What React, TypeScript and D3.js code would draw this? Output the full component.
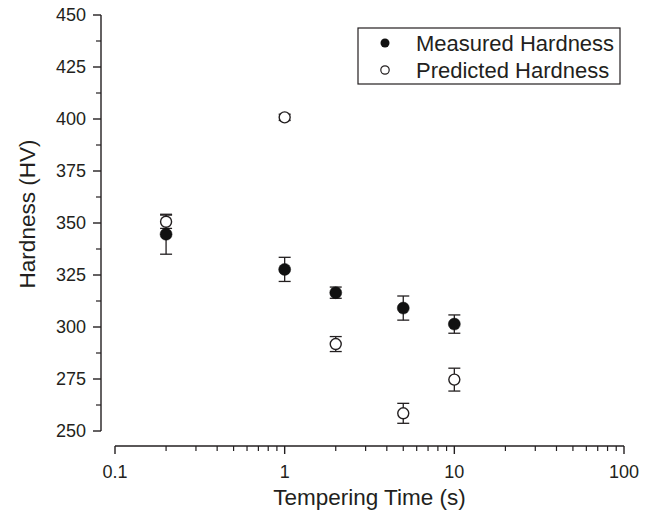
import React from "react";
import * as d3 from "d3";

const times = [0.2, 1, 2, 5, 10];
const measured = [344.6, 327.7, 316.5, 309.1, 301.4];
const measuredErr = [9.6, 5.8, 2.7, 5.8, 4.4];
const predicted = [350.6, 400.8, 291.8, 258.5, 274.7];
const predictedErr = [3.2, 1.5, 3.6, 4.8, 5.5];

const xMajor = [0.1, 1, 10, 100];
const xMajorLabels = ["0.1", "1", "10", "100"];
const yMajor = [250, 275, 300, 325, 350, 375, 400, 425, 450];

const legendNames = ["Measured Hardness", "Predicted Hardness"];

const FONT = "'Liberation Sans', Arial, Helvetica, sans-serif";
const TXT = "#231f20";

export default function App() {
  const W = 646, H = 515;
  const x = d3.scaleLog().domain([0.1, 100]).range([115, 624]);
  const y = d3.scaleLinear().domain([250, 450]).range([431, 15]);
  const axisY = 446;
  const axisX = 101;

  const xMinor: number[] = [];
  [0.1, 1, 10].forEach((d) => {
    for (let k = 2; k <= 9; k++) xMinor.push(d * k);
  });
  const yMinor: number[] = [];
  for (let v = 262.5; v < 450; v += 25) yMinor.push(v);

  const cap = 6;
  const r = 5.5;

  const errBar = (xv: number, yv: number, e: number, key: string) => {
    const cx = x(xv);
    const y1 = y(yv + e);
    const y2 = y(yv - e);
    return (
      <g key={key} stroke="#231f20" strokeWidth={1.3}>
        <line x1={cx} x2={cx} y1={y1} y2={y2} />
        <line x1={cx - cap} x2={cx + cap} y1={y1} y2={y1} />
        <line x1={cx - cap} x2={cx + cap} y1={y2} y2={y2} />
      </g>
    );
  };

  return (
    <svg
      width={W}
      height={H}
      style={{ position: "absolute", left: 0, top: 0, background: "#fff" }}
      fontFamily={FONT}
    >
      <rect width={W} height={H} fill="#fff" />
      {/* Y axis */}
      <line x1={axisX} x2={axisX} y1={y(450)} y2={y(250)} stroke="#231f20" strokeWidth={1.4} />
      {yMajor.map((v) => (
        <g key={"ym" + v}>
          <line x1={axisX - 8} x2={axisX} y1={y(v)} y2={y(v)} stroke="#231f20" strokeWidth={1.4} />
          <text x={axisX - 15} y={y(v)} dy="0.35em" textAnchor="end" fontSize={18} fill={TXT}>
            {v}
          </text>
        </g>
      ))}
      {yMinor.map((v) => (
        <line key={"yn" + v} x1={axisX - 5} x2={axisX} y1={y(v)} y2={y(v)} stroke="#231f20" strokeWidth={1.2} />
      ))}
      {/* X axis */}
      <line x1={x(0.1)} x2={x(100)} y1={axisY} y2={axisY} stroke="#231f20" strokeWidth={1.4} />
      {xMajor.map((v, i) => (
        <g key={"xm" + v}>
          <line x1={x(v)} x2={x(v)} y1={axisY} y2={axisY + 8} stroke="#231f20" strokeWidth={1.4} />
          <text x={x(v)} y={axisY + 32} textAnchor="middle" fontSize={18} fill={TXT}>
            {xMajorLabels[i]}
          </text>
        </g>
      ))}
      {xMinor.map((v) => (
        <line key={"xn" + v} x1={x(v)} x2={x(v)} y1={axisY} y2={axisY + 5} stroke="#231f20" strokeWidth={1.2} />
      ))}
      {/* titles */}
      <text x={(x(0.1) + x(100)) / 2} y={505} textAnchor="middle" fontSize={22.5} fill={TXT}>
        Tempering Time (s)
      </text>
      <text
        transform={`translate(35, 214) rotate(-90)`}
        textAnchor="middle"
        fontSize={22.5}
        fill={TXT}
      >
        Hardness (HV)
      </text>
      {/* error bars */}
      {times.map((t, i) => errBar(t, measured[i], measuredErr[i], "me" + i))}
      {times.map((t, i) => errBar(t, predicted[i], predictedErr[i], "pe" + i))}
      {/* markers */}
      {times.map((t, i) => (
        <circle key={"pm" + i} cx={x(t)} cy={y(predicted[i])} r={r} fill="#fff" stroke="#231f20" strokeWidth={1.4} />
      ))}
      {times.map((t, i) => (
        <circle key={"mm" + i} cx={x(t)} cy={y(measured[i])} r={r + 0.5} fill="#111" stroke="#111" strokeWidth={0.5} />
      ))}
      {/* legend */}
      <rect x={358} y={28} width={262} height={56} fill="#fff" stroke="#231f20" strokeWidth={1.2} />
      <circle cx={385} cy={43} r={4.5} fill="#111" />
      <circle cx={385} cy={70} r={4.2} fill="#fff" stroke="#231f20" strokeWidth={1.2} />
      {legendNames.map((n, i) => (
        <text key={n} x={416} y={43 + i * 27} dy="0.35em" fontSize={22} fill={TXT}>
          {n}
        </text>
      ))}
    </svg>
  );
}
